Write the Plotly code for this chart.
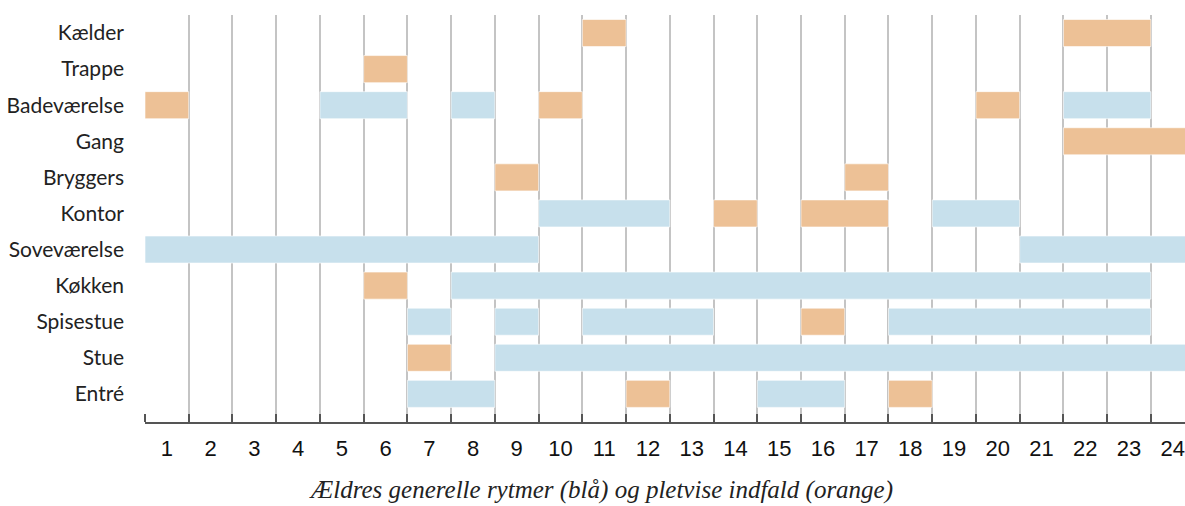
import plotly.graph_objects as go

rooms = ["Kælder", "Trappe", "Badeværelse", "Gang", "Bryggers", "Kontor",
         "Soveværelse", "Køkken", "Spisestue", "Stue", "Entré"]
hour_labels = [str(h) for h in range(1, 25)]

# blue = general rhythms (room, start hour, end hour)
blue_room = ["Badeværelse", "Badeværelse", "Badeværelse", "Kontor", "Kontor",
             "Soveværelse", "Soveværelse", "Køkken", "Spisestue", "Spisestue",
             "Spisestue", "Spisestue", "Stue", "Entré", "Entré"]
blue_start = [4, 7, 21, 9, 18, 0, 20, 7, 6, 8, 10, 17, 8, 6, 14]
blue_end = [6, 8, 23, 12, 20, 9, 24, 23, 7, 9, 13, 23, 24, 8, 16]

# orange = sporadic occurrences
orange_room = ["Kælder", "Kælder", "Trappe", "Badeværelse", "Badeværelse",
               "Badeværelse", "Gang", "Bryggers", "Bryggers", "Kontor", "Kontor",
               "Køkken", "Spisestue", "Stue", "Entré", "Entré"]
orange_start = [10, 21, 5, 0, 9, 19, 21, 8, 16, 13, 15, 5, 15, 6, 11, 17]
orange_end = [11, 23, 6, 1, 10, 20, 24, 9, 17, 14, 17, 6, 16, 7, 12, 18]

BLUE = "#C7E0EC"
ORANGE = "#EDC196"

fig = go.Figure()
fig.add_trace(go.Bar(
    y=blue_room, x=[e - s for s, e in zip(blue_start, blue_end)], base=blue_start,
    orientation="h", width=0.75, marker=dict(color=BLUE, line=dict(color="rgba(255,255,255,0.6)", width=1)),
    showlegend=False, hoverinfo="skip"))
fig.add_trace(go.Bar(
    y=orange_room, x=[e - s for s, e in zip(orange_start, orange_end)], base=orange_start,
    orientation="h", width=0.75, marker=dict(color=ORANGE, line=dict(color="rgba(255,255,255,0.6)", width=1)),
    showlegend=False, hoverinfo="skip"))

fig.update_layout(
    width=1185, height=506,
    margin=dict(l=145, r=0, t=15, b=84, autoexpand=False),
    plot_bgcolor="white", paper_bgcolor="white",
    barmode="overlay",
    xaxis=dict(
        range=[0, 23.78],
        tickmode="array",
        tickvals=[h - 0.5 for h in range(1, 25)],
        ticktext=hour_labels,
        ticks="", showgrid=False, zeroline=False,
        showline=True, linecolor="#555555", linewidth=1.5,
        tickfont=dict(family="Liberation Sans, Arial", size=22, color="#111111"),
        ticklabelstandoff=6,
        minor=dict(tickmode="array", tickvals=list(range(0, 25)), ticks="inside",
                   ticklen=8, tickwidth=1.5, tickcolor="#555555",
                   showgrid=True, gridcolor="#C4C4C4", gridwidth=1.5),
    ),
    yaxis=dict(
        categoryorder="array", categoryarray=rooms,
        range=[10.78, -0.5],
        showgrid=False, zeroline=False, ticks="",
        tickfont=dict(family="Lato, Noto Sans, sans-serif", size=21, color="#222222"),
        ticklabelstandoff=20,
    ),
    annotations=[dict(
        text="<i>Ældres generelle rytmer (blå) og pletvise indfald (orange)</i>",
        xref="paper", yref="paper", x=0.4385, y=-0.168, xanchor="center", yanchor="middle",
        showarrow=False,
        font=dict(family="Liberation Serif, serif", size=25, color="#222222"))],
)

fig.write_html("out.html", config={"displayModeBar": False},
               post_script="document.body.style.margin='0';document.body.style.overflow='hidden';")
